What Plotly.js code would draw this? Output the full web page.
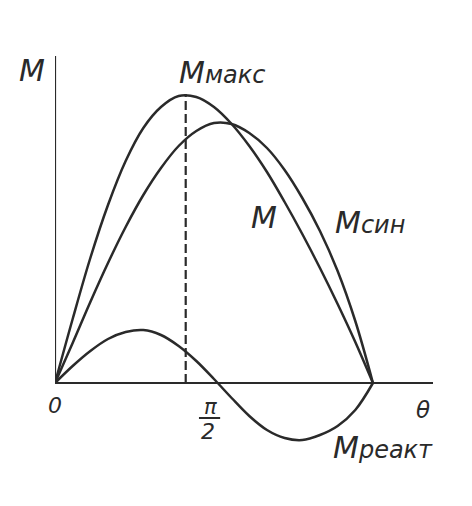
<!DOCTYPE html>
<html><head><meta charset="utf-8">
<script src="https://cdn.plot.ly/plotly-3.0.1.min.js"></script>
<style>html,body{margin:0;padding:0;background:#fff}#chart{width:472px;height:506px}</style>
</head><body><div id="chart"></div>
<script>
// angle theta in degrees (0 .. 180 = pi)
const thetaDeg = [0,10,20,30,40,50,60,70,80,90,100,110,120,130,140,150,160,170,180];
// resulting torque M
const mTotal  = [0,64,125,178,222,255,276,287,286,276,259,237,211,181,149,115,79,41,0];
// synchronous torque M_син
const mSin    = [0,40,81,120,156,188,215,237,252,260,259,250,235,213,185,152,112,62,0];
// reactive torque M_реакт
const mReakt  = [0,17,32,44,51,53,48,37,22,4,-15,-33,-47,-55,-57,-52,-43,-27,0];
// point of maximum torque M_макс
const mMaxAt = 74;
const mMaxValue = 289;
// axis end and tick labels
const thetaAxisEnd = 214;
const mAxisTop = 327;
const tickLabels = ['0', 'π', '2', 'θ'];
const sub = s => '<span style="font-size:24px">' + s + '</span>';
const curveNames = ['M', 'M' + sub('макс'), 'M' + sub('син'), 'M' + sub('реакт')];

const ink = '#2a2a2a';
const font = {family: 'DejaVu Sans, Liberation Sans, sans-serif', color: ink};
const lineStyle = {color: ink, width: 2.5, shape: 'spline', smoothing: 1};

const traces = [
  {x: thetaDeg, y: mTotal, mode: 'lines', line: lineStyle, hoverinfo: 'skip'},
  {x: thetaDeg, y: mSin, mode: 'lines', line: lineStyle, hoverinfo: 'skip'},
  {x: thetaDeg, y: mReakt, mode: 'lines', line: lineStyle, hoverinfo: 'skip'}
];

function ann(text, x, y, size, ref) {
  return {text: '<i>' + text + '</i>', x: x, y: y, xref: ref || 'x', yref: ref || 'y', showarrow: false,
          xanchor: 'center', yanchor: 'middle', font: Object.assign({size: size}, font)};
}

const layout = {
  width: 472, height: 506,
  margin: {l: 55, r: 39, t: 55, b: 48},
  paper_bgcolor: '#fff', plot_bgcolor: '#fff',
  showlegend: false,
  xaxis: {range: [0, thetaAxisEnd], visible: false, fixedrange: true},
  yaxis: {range: [-75, 328], visible: false, fixedrange: true},
  shapes: [
    {type: 'line', xref: 'x', yref: 'y', x0: 0, x1: 0, y0: 0, y1: mAxisTop, line: {color: ink, width: 2.2}},
    {type: 'line', xref: 'x', yref: 'y', x0: 0, x1: thetaAxisEnd, y0: 0, y1: 0, line: {color: ink, width: 2.2}},
    {type: 'line', xref: 'x', yref: 'y', x0: mMaxAt, x1: mMaxAt, y0: 0, y1: mMaxValue, line: {color: ink, width: 2.2, dash: '9px,4px'}},
    {type: 'line', xref: 'x', yref: 'y', x0: 81.5, x1: 93.5, y0: -35, y1: -35, line: {color: ink, width: 2}}
  ],
  annotations: [
    ann(curveNames[0], -0.062, 0.962, 30, 'paper'),
    ann(curveNames[1], 94.6, 311, 30),
    ann(curveNames[0], 118.6, 166, 30),
    ann(curveNames[2], 178.4, 161, 30),
    ann(curveNames[3], 185.5, -64, 30),
    ann(tickLabels[0], 0, -22, 22),
    ann(tickLabels[1], 87.8, -24, 21),
    ann(tickLabels[2], 86.8, -48, 22),
    ann(tickLabels[3], 208.4, -27, 23)
  ]
};

Plotly.newPlot('chart', traces, layout, {staticPlot: true, displayModeBar: false});
</script>
</body></html>
